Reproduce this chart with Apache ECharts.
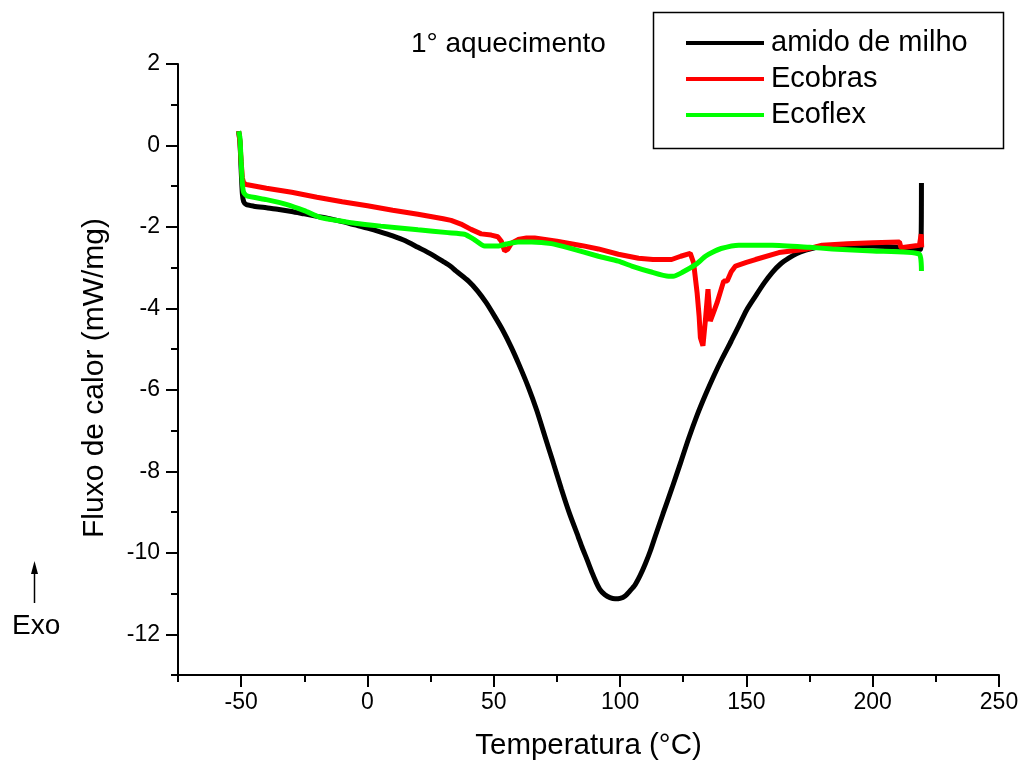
<!DOCTYPE html>
<html>
<head>
<meta charset="utf-8">
<script src="https://cdn.jsdelivr.net/npm/echarts@6/dist/echarts.min.js"></script>
<style>
html,body{margin:0;padding:0;background:#fff;}
#chart{width:1024px;height:769px;}
</style>
</head>
<body>
<div id="chart"></div>
<script>
// ---- data ----
var seriesNames = ['amido de milho', 'Ecobras', 'Ecoflex'];
var seriesColors = ['#000000', '#ff0000', '#00ff00'];

var amidoT = [-51,-50.5,-50,-49.5,-49,-48,-45,-40,-35,-30,-25,-20,-15,-10,-5,0,5,10,15,20,25,30,33,35,40,43.7,47,50.3,53.5,56.9,60,63.6,67,70.2,73.5,76.8,80,83.4,85,87,89,90.5,92,94,96,98,100,102,104,106,108,110,112,114,117,120.5,124,127.1,130.5,133.8,137,140.4,144,147,150,153.6,157,160.2,163.5,166.9,170,173.5,177,180,190,200,210,215,219,219.3];
var amidoV = [0.35,0.1,-0.6,-1.2,-1.38,-1.45,-1.49,-1.53,-1.57,-1.62,-1.68,-1.74,-1.8,-1.87,-1.95,-2.03,-2.12,-2.22,-2.34,-2.5,-2.66,-2.85,-2.97,-3.08,-3.33,-3.58,-3.86,-4.19,-4.53,-4.95,-5.38,-5.92,-6.5,-7.13,-7.78,-8.44,-9.04,-9.6,-9.87,-10.18,-10.5,-10.72,-10.9,-11.03,-11.1,-11.13,-11.12,-11.06,-10.93,-10.78,-10.55,-10.27,-9.95,-9.58,-9.04,-8.42,-7.78,-7.2,-6.62,-6.12,-5.67,-5.23,-4.8,-4.43,-4.05,-3.7,-3.38,-3.12,-2.91,-2.76,-2.65,-2.57,-2.51,-2.47,-2.46,-2.47,-2.5,-2.53,-2.55,-0.92];

var ecobrasT = [-51,-50.5,-50,-49.5,-49,-48,-40,-30,-20,-10,0,10,20,30,33.1,37,41,45,49,51.6,53,54.3,55.5,57,59.6,63,66.2,75,85,91.4,99.3,107.3,113,120.4,124,127.8,129.1,130.5,131.3,131.8,132.8,133.8,134.8,135.7,137,138.4,141,142.4,144,145.7,150,153.6,162.9,173.5,180,190,200,210.6,211.2,218.5,219.2,219.4];
var ecobrasV = [0.35,0.1,-0.4,-0.8,-0.92,-0.96,-1.05,-1.15,-1.27,-1.38,-1.48,-1.59,-1.69,-1.8,-1.84,-1.93,-2.06,-2.17,-2.2,-2.24,-2.35,-2.59,-2.55,-2.4,-2.31,-2.27,-2.27,-2.35,-2.46,-2.54,-2.67,-2.77,-2.8,-2.8,-2.72,-2.65,-2.88,-3.62,-4.2,-4.72,-4.92,-4.27,-3.53,-4.31,-4.1,-3.86,-3.33,-3.33,-3.1,-2.96,-2.87,-2.8,-2.63,-2.55,-2.45,-2.41,-2.39,-2.37,-2.51,-2.45,-2.18,-2.5];

var ecoflexT = [-51,-50.5,-50,-49.5,-49,-47.7,-40,-31.8,-25,-18.5,-10,-5,5.3,20,31.8,38.4,42,46.4,51.6,55,59.6,65,72.8,80,91.4,99.3,104.6,112,119.2,121,124.5,130,133.8,136.4,140,147,160.2,175,184,200,218.5,219.3];
var ecoflexV = [0.35,0.2,-0.4,-0.95,-1.15,-1.24,-1.33,-1.45,-1.6,-1.77,-1.86,-1.91,-1.98,-2.07,-2.14,-2.18,-2.3,-2.47,-2.47,-2.42,-2.37,-2.37,-2.41,-2.52,-2.72,-2.84,-2.96,-3.1,-3.21,-3.21,-3.12,-2.92,-2.72,-2.63,-2.53,-2.45,-2.45,-2.5,-2.54,-2.59,-2.67,-3.08];

var xMajorTicks = [-50, 0, 50, 100, 150, 200, 250];
var yMajorTicks = [-12, -10, -8, -6, -4, -2, 0, 2];

var titleText = '1° aquecimento';
var xName = 'Temperatura (°C)';
var yName = 'Fluxo de calor (mW/mg)';
var exoText = 'Exo';

// ---- chart ----
function pairs(t, v) { return t.map(function (x, i) { return [x, v[i]]; }); }
var FONT = '"Liberation Sans", Arial, sans-serif';
var chart = echarts.init(document.getElementById('chart'), null, {renderer: 'canvas'});

var seriesData = [pairs(amidoT, amidoV), pairs(ecobrasT, ecobrasV), pairs(ecoflexT, ecoflexV)];
var smoothing = [0.25, 0, 0.2];

var option = {
  backgroundColor: '#ffffff',
  animation: false,
  textStyle: {fontFamily: FONT},
  title: {
    text: titleText, left: 411, top: 30, padding: 0,
    textStyle: {fontFamily: FONT, fontSize: 28, fontWeight: 'normal', color: '#000'}
  },
  legend: {
    data: seriesNames, orient: 'vertical', left: 686, top: 25, padding: 0,
    itemWidth: 78, itemHeight: 4, itemGap: 0, icon: 'rect',
    textStyle: {fontFamily: FONT, fontSize: 29, color: '#000', lineHeight: 36, padding: [0,0,0,2]}
  },
  grid: {left: 178, right: 25, top: 64, bottom: 94, containLabel: false},
  xAxis: [{
    type: 'value', min: -75, max: 250, interval: 25,
    name: xName, nameLocation: 'middle', nameGap: 56,
    nameTextStyle: {fontFamily: FONT, fontSize: 29.5, color: '#000'},
    axisLine: {show: true, onZero: false, lineStyle: {color: '#000', width: 2}},
    axisTick: {show: true, length: 7, lineStyle: {color: '#000', width: 2}},
    axisLabel: {color: '#000', fontSize: 23, fontFamily: FONT, margin: 16,
      formatter: function (v) { return (v % 50 === 0) ? String(v) : ''; }},
    splitLine: {show: false}
  }, {
    type: 'value', min: -75, max: 250, position: 'bottom', gridIndex: 0,
    axisLine: {show: false, onZero: false},
    axisTick: {show: true, length: 12, customValues: xMajorTicks, lineStyle: {color: '#000', width: 2}},
    axisLabel: {show: false},
    splitLine: {show: false}
  }],
  yAxis: [{
    type: 'value', min: -13, max: 2, interval: 1,
    axisLine: {show: true, onZero: false, lineStyle: {color: '#000', width: 2}},
    axisTick: {show: true, length: 7, lineStyle: {color: '#000', width: 2}},
    axisLabel: {color: '#000', fontSize: 23, fontFamily: FONT, margin: 18,
      formatter: function (v) { return (Math.abs(v) % 2 === 0) ? String(v) : ''; }},
    splitLine: {show: false}
  }, {
    type: 'value', min: -13, max: 2, position: 'left', gridIndex: 0,
    axisLine: {show: false, onZero: false},
    axisTick: {show: true, length: 12, customValues: yMajorTicks, lineStyle: {color: '#000', width: 2}},
    axisLabel: {show: false},
    splitLine: {show: false}
  }],
  series: seriesNames.map(function (n, i) {
    return {
      name: n, type: 'line', data: seriesData[i], xAxisIndex: 0, yAxisIndex: 0,
      showSymbol: false, symbol: 'none', smooth: smoothing[i],
      lineStyle: {color: seriesColors[i], width: 5},
      itemStyle: {color: seriesColors[i]},
      z: 2 + i
    };
  }),
  graphic: [
    {type: 'rect', shape: {x: 653.5, y: 12.5, width: 350, height: 136},
      style: {stroke: '#000', lineWidth: 1.5, fill: 'none'}, z: 1},
    {type: 'text', x: 95, y: 378, rotation: Math.PI / 2,
      style: {text: yName, font: '30px ' + FONT, fill: '#000', align: 'center', verticalAlign: 'middle'}},
    {type: 'text', x: 12, y: 626, style: {text: exoText, font: '28px ' + FONT, fill: '#000', verticalAlign: 'middle'}},
    {type: 'line', shape: {x1: 34.5, y1: 603, x2: 34.5, y2: 570}, style: {stroke: '#000', lineWidth: 1.5}},
    {type: 'polygon', shape: {points: [[34.5, 561], [31, 574], [38, 574]]}, style: {fill: '#000'}}
  ]
};
chart.setOption(option);
</script>
</body>
</html>
